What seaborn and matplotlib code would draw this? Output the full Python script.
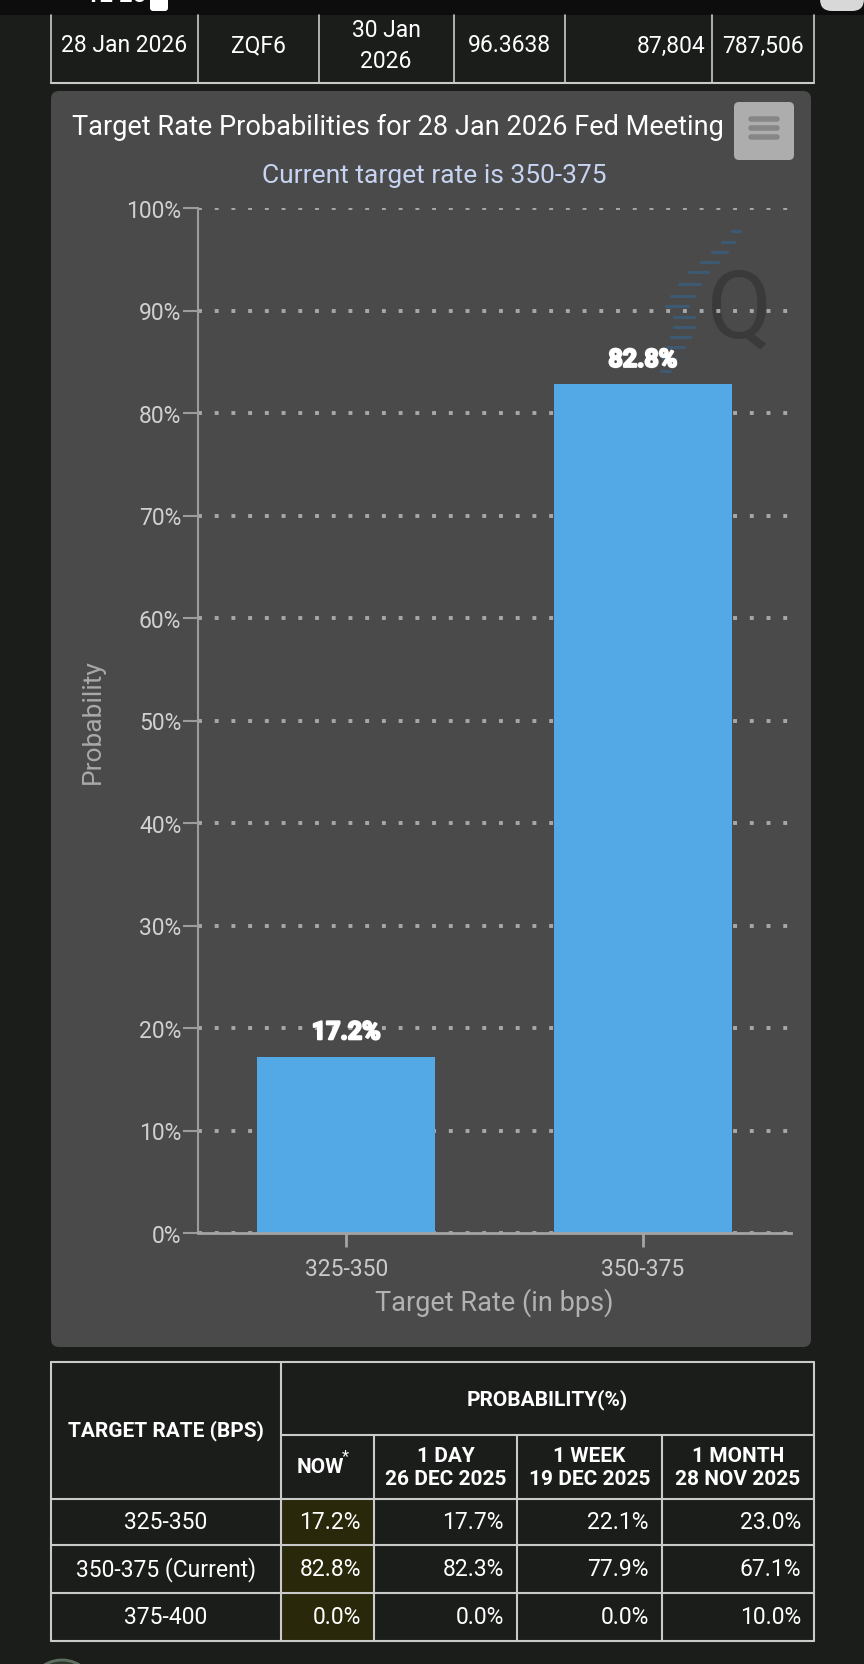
import seaborn as sns
import matplotlib.pyplot as plt
import matplotlib.patheffects as pe
from matplotlib.patches import FancyBboxPatch, Rectangle, Circle

# chart data
rate_bins = ["325-350", "350-375"]
probabilities = [17.2, 82.8]
y_ticks = [0, 10, 20, 30, 40, 50, 60, 70, 80, 90, 100]

# contract row above the chart
contract_row = ["28 Jan 2026", "ZQF6", "30 Jan\n2026", "96.3638", "87,804", "787,506"]

# probability table below the chart
table_rates = ["325-350", "350-375 (Current)", "375-400"]
prob_now = [17.2, 82.8, 0.0]
prob_1day = [17.7, 82.3, 0.0]
prob_1week = [22.1, 77.9, 0.0]
prob_1month = [23.0, 67.1, 10.0]
period_headers = ["1 DAY\n26 DEC 2025", "1 WEEK\n19 DEC 2025", "1 MONTH\n28 NOV 2025"]

W, H = 864, 1665
PAGE = "#1b1d1b"
PANEL = "#4a4a4a"
LINE = "#cacaca"
BAR = "#52a9e5"

sns.set_style("white")
plt.rcParams["font.family"] = ["Roboto", "DejaVu Sans"]

fig = plt.figure(figsize=(W / 100, H / 100), dpi=100, facecolor=PAGE)

# full-page axes in pixel units for the tables and the panel
bg = fig.add_axes([0, 0, 1, 1])
bg.set_xlim(0, W)
bg.set_ylim(H, 0)
bg.axis("off")

# status bar (cut off at the top)
bg.add_patch(Rectangle((0, 0), W, 16, color="#0c0d0c", lw=0))
bg.text(86, -4, "12 25", color="white", fontsize=17, fontweight="bold", va="center")
bg.add_patch(FancyBboxPatch((150, -12), 18, 24, boxstyle="round,pad=0,rounding_size=3", color="white", lw=0))
bg.add_patch(FancyBboxPatch((820, -14), 44, 26, boxstyle="round,pad=0,rounding_size=12", color="#d8d8d8", lw=0))

# contract row table
top_cols = [51, 198, 319, 454, 565, 712, 814]
for x in top_cols:
    bg.plot([x, x], [16, 84], color=LINE, lw=1.2)
bg.plot([51, 814], [84, 84], color=LINE, lw=1.5)
top_x = [124, 258, 386, 509, 706, 763]
top_ha = ["center", "center", "center", "center", "right", "center"]
for txt, x, ha in zip(contract_row, top_x, top_ha):
    bg.text(x, 46, txt, color="white", fontsize=16.5, ha=ha, va="center", linespacing=1.4)

# chart panel
bg.add_patch(FancyBboxPatch((51, 92), 760, 1256, boxstyle="round,pad=0,rounding_size=8",
                            color=PANEL, lw=0))
bg.text(72, 127, "Target Rate Probabilities for 28 Jan 2026 Fed Meeting",
        color="white", fontsize=19.5, ha="left", va="center")
bg.text(434, 176, "Current target rate is 350-375", color="#c6d4f2", fontsize=19,
        ha="center", va="center")

# menu button
bg.add_patch(FancyBboxPatch((734, 103), 60, 58, boxstyle="round,pad=0,rounding_size=5",
                            color="#adadad", lw=0))
for y in [120, 129, 138]:
    bg.plot([751, 777], [y, y], color="#878787", lw=4, solid_capstyle="round")

# watermark logo
bg.text(739, 312, "Q", fontsize=68, color="#3a3a3a", ha="center", va="center")
for xr, y, w in [(740, 232, 8), (734, 243, 12), (727, 253, 15), (718, 263, 17),
                 (708, 273, 19), (700, 285, 21), (694, 297, 23), (688, 307, 22),
                 (694, 318, 20), (694, 328, 20), (690, 338, 19), (684, 348, 17),
                 (676, 360, 13), (670, 372, 9)]:
    bg.plot([xr - w, xr], [y, y], color="#3a6080", lw=2.2, alpha=0.75)

# chart
ax = fig.add_axes([198 / W, 1 - 1234 / H, (791 - 198) / W, (1234 - 209) / H])
ax.patch.set_alpha(0)

for t in y_ticks:
    ax.axhline(t, color="#a8a8a8", lw=2.8, linestyle=(0, (1, 3.3)), zorder=1)

sns.barplot(x=rate_bins, y=probabilities, color=BAR, saturation=1, width=0.6, ax=ax,
            edgecolor=BAR, linewidth=0, zorder=3)
ax.bar_label(ax.containers[0], labels=[f"{v}%" for v in probabilities], padding=9,
             color="white", fontsize=18, fontweight="bold",
             path_effects=[pe.withStroke(linewidth=1.6, foreground="white")])

ax.set_xlim(-0.5, 1.5)
ax.set_ylim(0, 100)
ax.set_yticks(y_ticks)
ax.set_yticklabels([f"{t}%" for t in y_ticks])
for s in ["top", "right"]:
    ax.spines[s].set_visible(False)
ax.spines["left"].set_color("#9c9c9c")
ax.spines["left"].set_linewidth(1.5)
ax.spines["bottom"].set_color("#a4a4a4")
ax.spines["bottom"].set_linewidth(2)
ax.spines["bottom"].set_zorder(4)
ax.tick_params(axis="y", left=True, length=11, width=1.5, color="#9c9c9c", pad=1,
               labelsize=16.5, labelcolor="#d0d0d0")
ax.tick_params(axis="x", bottom=True, length=10, width=2, color="#a4a4a4", pad=7,
               labelsize=16.5, labelcolor="#cacaca")
ax.set_ylabel("Probability", fontsize=19, color="#a9a9a9", va="center")
ax.yaxis.set_label_coords((93 - 198) / 593, 0.5)
ax.set_xlabel("Target Rate (in bps)", fontsize=19.5, color="#b2b2b2", va="center")
ax.xaxis.set_label_coords(0.5, (1234 - 1303) / 1025)

# probability table
cols = [51, 281, 374, 517, 662, 814]
rows = [1500, 1546, 1594, 1642]
bg.add_patch(Rectangle((cols[1], rows[0]), cols[2] - cols[1], rows[-1] - rows[0],
                       color="#29280b", lw=0))
bg.plot([51, 814], [1363, 1363], color=LINE, lw=1.5)
bg.plot([281, 814], [1436, 1436], color=LINE, lw=1.5)
for y in rows:
    bg.plot([51, 814], [y, y], color=LINE, lw=1.5)
for x in [51, 281, 814]:
    bg.plot([x, x], [1363, 1642], color=LINE, lw=1.5)
for x in cols[2:5]:
    bg.plot([x, x], [1436, 1642], color=LINE, lw=1.5)

bold = dict(color="white", fontsize=15, fontweight="bold", va="center", ha="center")
bg.text(166, 1431, "TARGET RATE (BPS)", **bold)
bg.text(547, 1400, "PROBABILITY(%)", **bold)
bg.text(320, 1468, "NOW", **bold)
bg.text(345, 1457, "*", color="white", fontsize=12, va="center", ha="center")
for i, lab in enumerate(period_headers):
    bg.text((cols[i + 2] + cols[i + 3]) / 2, 1468, lab, linespacing=1.25, **bold)

columns = [prob_now, prob_1day, prob_1week, prob_1month]
for r, rate in enumerate(table_rates):
    yc = (rows[r] + rows[r + 1]) / 2
    bg.text(166, yc, rate, color="white", fontsize=16.5, ha="center", va="center")
    for c, vals in enumerate(columns):
        bg.text(cols[c + 2] - 13, yc, f"{vals[r]:.1f}%", color="white", fontsize=16.5,
                ha="right", va="center")

# app icon peeking at the bottom
bg.add_patch(Circle((62, 1695), 34, facecolor="#2d3a2d", edgecolor="#5f6f5f", lw=2))

fig.savefig("out.png", dpi=100, facecolor=PAGE)
